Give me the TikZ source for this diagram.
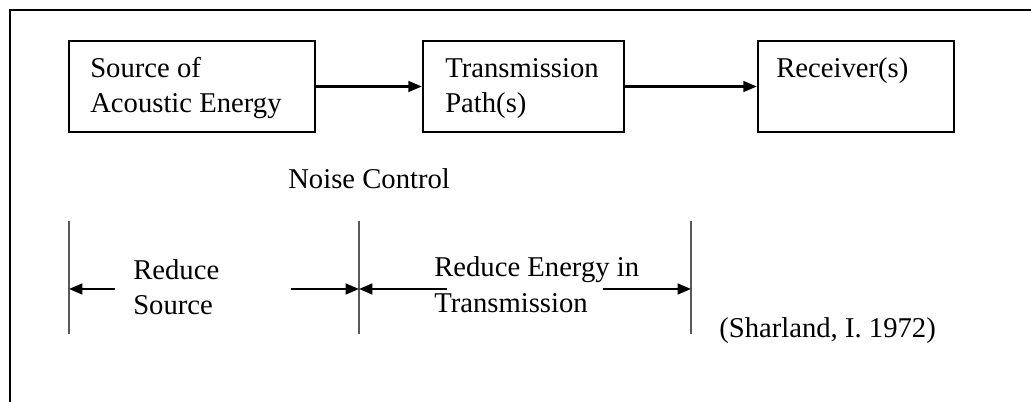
\documentclass[tikz,border=0pt]{standalone}
\usepackage{fontspec}
\setmainfont{Liberation Serif}
\usetikzlibrary{arrows.meta}
\begin{document}
\begin{tikzpicture}[x=0.75pt,y=-0.75pt,
  box/.style={draw, line width=1.8pt, inner sep=0pt, rectangle},
  txt/.style={anchor=base west, inner sep=0pt, font=\fontsize{21.5}{26}\selectfont},
  conn/.style={line width=1.6pt, -{Triangle[length=10pt,width=8pt]}},
  bar/.style={line width=1.6pt, draw=black!65}]
\useasboundingbox (0,0) rectangle (1031,402);
% frame
\draw[line width=1.8pt] (10,402) -- (10,10) -- (1031,10);
% boxes
\node[box, minimum width=184.5pt, minimum height=68.25pt] (src) at (192,86.5) {};
\node[box, minimum width=150.75pt, minimum height=68.25pt] (path) at (523.5,86.5) {};
\node[box, minimum width=147pt, minimum height=68.25pt] (rcv) at (856,86.5) {};
\node[txt] (t1) at (90,78) {Source of};
\node[txt] (t2) at (90,113) {Acoustic Energy};
\node[txt] (t3) at (445,78) {Transmission};
\node[txt] (t4) at (445,113) {Path(s)};
\node[txt] (t5) at (776,78) {Receiver(s)};
\draw[conn] (src.east) -- (path.west);
\draw[conn] (path.east) -- (rcv.west);
% noise control
\node[txt] (nc) at (288,189) {Noise Control};
% bars
\coordinate (b1t) at (69,221); \coordinate (b1b) at (69,334);
\coordinate (b2t) at (359,221); \coordinate (b2b) at (359,334);
\coordinate (b3t) at (691,221); \coordinate (b3b) at (691,334);
\draw[bar] (b1t) -- (b1b);
\draw[bar] (b2t) -- (b2b);
\draw[bar] (b3t) -- (b3b);
\coordinate (m1) at (69,289);
\coordinate (m2) at (359,289);
\coordinate (m3) at (691,289);
\coordinate (a1) at (115,289);
\coordinate (a2) at (291,289);
\coordinate (a3) at (447,289);
\coordinate (a4) at (603,289);
\draw[conn] (a1) -- (m1);
\draw[conn] (a2) -- (m2);
\draw[conn] (a3) -- (m2);
\draw[conn] (a4) -- (m3);
\node[txt] (r1) at (133,280) {Reduce};
\node[txt] (r2) at (133,315) {Source};
\node[txt] (r3) at (434,277) {Reduce Energy in};
\node[txt] (r4) at (434,313) {Transmission};
\node[txt] (cite) at (719,338) {(Sharland, I. 1972)};
\end{tikzpicture}
\end{document}
